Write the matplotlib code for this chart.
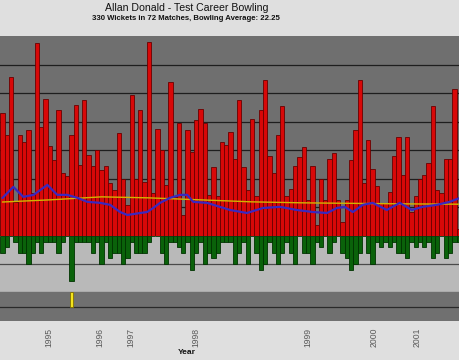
import matplotlib

matplotlib.use("Agg")
import matplotlib.pyplot as plt  # noqa: E402
import numpy as np  # noqa: E402

# runs conceded per innings (red, top panel)
runs = [
    86, 71, 111, 24, 71, 66, 74, 30, 135, 76, 96, 63, 53, 88, 44, 42, 71, 92,
    50, 95, 57, 49, 60, 46, 49, 37, 32, 72, 40, 22, 99, 40, 88, 38, 136, 30,
    75, 60, 36, 108, 27, 79, 15, 74, 59, 81, 89, 79, 29, 48, 28, 66, 64, 73,
    54, 95, 48, 32, 82, 28, 88, 109, 56, 44, 71, 91, 28, 33, 49, 55, 62, 25,
    49, 8, 40, 25, 54, 58, 25, 10, 25, 53, 74, 109, 37, 67, 47, 35, 23, 23,
    31, 56, 69, 43, 69, 17, 28, 40, 43, 51, 91, 32, 30, 54, 54, 103, 5,
]
# wickets per innings (green, middle panel, drawn downwards)
wickets = [
    3, 2, 0, 1, 3, 3, 5, 3, 1, 3, 1, 1, 1, 3, 1, 0, 8, 1,
    1, 1, 1, 3, 1, 5, 1, 4, 3, 3, 5, 4, 1, 3, 3, 3, 1, 0,
    0, 3, 5, 1, 1, 2, 3, 1, 6, 3, 1, 5, 3, 4, 3, 1, 1, 1,
    5, 3, 1, 5, 0, 3, 6, 5, 1, 3, 5, 3, 1, 3, 5, 0, 3, 3,
    5, 1, 2, 0, 3, 1, 0, 3, 4, 6, 5, 3, 0, 3, 5, 1, 2, 1,
    2, 1, 3, 3, 4, 1, 2, 1, 2, 1, 4, 3, 0, 4, 3, 1, 1,
]
# highlighted innings (yellow, bottom panel)
highlight_idx = [16]
highlight_val = [1]

# moving average (blue) and career average (yellow), sampled by innings
moving_idx = [0, 2.5, 4.8, 7.2, 10.4, 12.7, 15.0, 17.4, 19.7, 22.7, 25.0,
              27.3, 29.0, 32.0, 33.6, 35.0, 36.6, 38.9, 41.3, 42.9, 44.3,
              47.5, 50.5, 52.9, 56.8, 60.5, 64.5, 68.4, 72.1, 75.4, 77.7,
              79.5, 81.4, 83.7, 86.0, 89.3, 92.3, 95.1, 97.6, 100.9, 103.9,
              106.3]
moving_avg = [26.7, 34.4, 27.4, 28.8, 35.8, 28.8, 28.8, 26.7, 23.9, 23.2,
              21.8, 16.8, 14.7, 16.1, 16.8, 19.6, 23.2, 26.7, 28.8, 28.8,
              23.9, 23.2, 20.4, 18.2, 16.1, 19.6, 20.4, 18.2, 16.8, 16.1,
              19.6, 20.4, 16.8, 21.8, 23.2, 18.2, 23.2, 18.2, 20.4, 21.8,
              23.9, 26.7]
career_idx = [0, 11, 23, 34, 46, 58, 70, 93, 106.3]
career_avg = [23.8, 25.3, 27.4, 26.7, 25.3, 23.9, 23.2, 22.5, 22.25]

year_labels = ["1995", "1996", "1997", "1998", "1999", "2000", "2001"]
year_first_innings = [10.7, 22.7, 29.9, 45.0, 71.0, 86.3, 96.3]

TITLE = "Allan Donald - Test Career Bowling"
SUBTITLE = "330 Wickets in 72 Matches, Bowling Average: 22.25"

x = np.arange(len(runs))

fig = plt.figure(figsize=(4.6, 3.6), dpi=100, facecolor="#dfdfdf")
ax1 = fig.add_axes([0, 1 - 236 / 360, 1, 200 / 360])
ax2 = fig.add_axes([0, 1 - 292 / 360, 1, 56 / 360], sharex=ax1)
ax3 = fig.add_axes([0, 1 - 321 / 360, 1, 29 / 360], sharex=ax1)

for ax, bg in ((ax1, "#6f6f6f"), (ax2, "#b9b9b9"), (ax3, "#707070")):
    ax.set_facecolor(bg)
    for side in ("top", "left", "right", "bottom"):
        ax.spines[side].set_visible(False)
    ax.tick_params(left=False, labelleft=False, bottom=False, labelbottom=False)

# top panel: runs
ax1.bar(x, runs, width=1.0, color="#d80808", edgecolor="#6a0000",
        linewidth=0.6, zorder=2)
ax1.plot(career_idx, career_avg, color="#d2b400", lw=1.0, zorder=3)
ax1.plot(moving_idx, moving_avg, color="#3a28c0", lw=1.6, zorder=4)
ax1.set_ylim(0, 140)
ax1.set_yticks(np.arange(20, 140, 20))
ax1.yaxis.grid(True, color="#1e1e1e", lw=0.9, zorder=1)
ax1.set_axisbelow(True)

# middle panel: wickets
ax2.bar(x, wickets, width=1.0, color="#0a620a", edgecolor="#003300",
        linewidth=0.6, zorder=2)
ax2.set_ylim(10, 0)
ax2.set_yticks([5])
ax2.yaxis.grid(True, color="#4a4a4a", lw=0.9, zorder=1)
ax2.set_axisbelow(True)
ax2.spines["bottom"].set_visible(True)
ax2.spines["bottom"].set_color("#4a4a4a")
ax2.spines["bottom"].set_linewidth(0.9)

# bottom panel: highlighted innings
ax3.bar(highlight_idx, highlight_val, width=0.8, color="#f4e41c",
        edgecolor="#807000", linewidth=0.6, zorder=2)
ax3.set_ylim(2, 0)
ax3.set_yticks([1])
ax3.yaxis.grid(True, color="#2a2a2a", lw=0.9, zorder=1)
ax3.set_axisbelow(True)

ax1.set_xlim(-0.6, 106.3)
ax3.set_xticks(year_first_innings)
ax3.set_xticklabels(year_labels, rotation=90, va="top", ha="center",
                    fontsize=6.2, color="#5a5a5a", family="Liberation Sans")
ax3.tick_params(labelbottom=True, bottom=False, pad=1.5)

fig.text(0.405, 1 - 8 / 360, TITLE, ha="center", va="center",
         fontsize=7.6, family="Liberation Sans", color="#111111")
fig.text(0.405, 1 - 19 / 360, SUBTITLE, ha="center", va="center",
         fontsize=5.6, family=["Liberation Sans Narrow", "Liberation Sans"],
         weight="bold", color="#111111")
fig.text(0.405, 1 - 353 / 360, "Year", ha="center", va="center",
         fontsize=6.0, weight="bold", family="Liberation Sans", color="#111111")

fig.savefig("out.png", dpi=100, facecolor=fig.get_facecolor())
